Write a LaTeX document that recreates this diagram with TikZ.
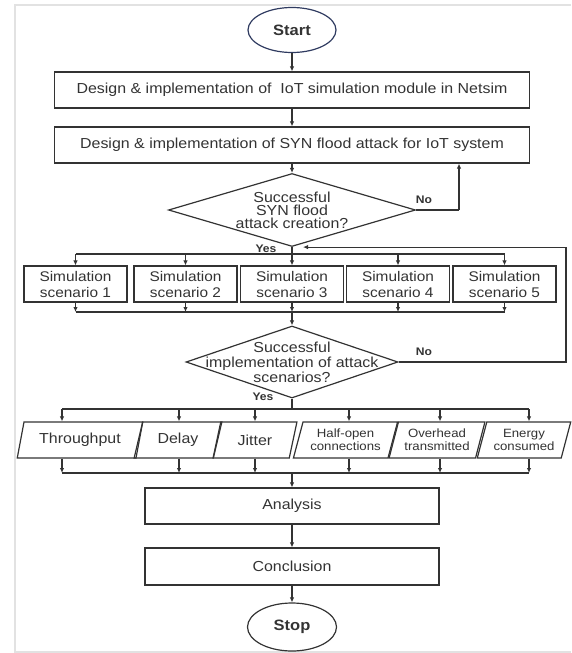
\documentclass[tikz,border=0pt]{standalone}
\usepackage{fontspec}
\setmainfont{Liberation Sans}[FakeStretch=1.1]
\usetikzlibrary{shapes.geometric,arrows.meta}

\definecolor{ink}{HTML}{333333}
\definecolor{navyink}{HTML}{2F3B60}
\definecolor{framegray}{HTML}{E2E2E2}

\tikzset{
  flow/.style={draw=ink,line width=1.2pt,text=ink,inner sep=0pt,align=center},
  box/.style={flow,rectangle,minimum height=36pt,font=\fontsize{14.5}{16}\selectfont},
  term/.style={flow,ellipse,minimum width=88pt,minimum height=45pt,font=\fontsize{15}{15}\selectfont\bfseries},
  decision/.style={flow,diamond},
  dtext/.style={text=ink,align=center,font=\fontsize{14.5}{13}\selectfont},
  data/.style={flow,trapezium,trapezium left angle=70,trapezium right angle=110,
    trapezium stretches=true,minimum height=36pt,font=\fontsize{14.5}{16}\selectfont},
  smalltext/.style={font=\fontsize{12}{13}\selectfont},
  yesno/.style={text=ink,font=\fontsize{11}{11}\selectfont\bfseries},
  link/.style={draw=ink,line width=1.2pt},
  arr/.style={link,-{Latex[length=5pt,width=4.5pt]}}
}

\begin{document}
\begin{tikzpicture}[x=1pt,y=-1pt]
  \useasboundingbox (0,0) rectangle (571,653);
  \draw[framegray,line width=2.5pt] (15,653) -- (15,5) -- (571,5);
  \draw[framegray,line width=2pt] (15,651.5) -- (571,651.5);

  \node[term,draw=navyink] (start) at (292,30) {Start};
  \node[box,minimum width=475pt] (design1) at (292,90) {Design \& implementation of\ \ IoT simulation module in Netsim};
  \node[box,minimum width=475pt] (design2) at (292,145) {Design \& implementation of SYN flood attack for IoT system};

  \node[decision,minimum width=247pt,minimum height=73pt] (d1) at (292,210) {};
  \node[dtext] (d1t) at (d1) {Successful\\SYN flood\\attack creation?};

  \foreach \x [count=\i] in {75.5,185.5,292,398,504.5}
    \node[box,minimum width=103pt,font=\fontsize{14}{16}\selectfont] (s\i) at (\x,284) {Simulation\\scenario \i};

  \node[decision,minimum width=212pt,minimum height=72pt] (d2) at (292,362) {};
  \node[dtext,font=\fontsize{14.5}{15}\selectfont] (d2t) at (d2) {Successful\\implementation of attack\\scenarios?};

  \node[data,minimum width=126pt] (tp) at (80,440) {Throughput};
  \node[data,minimum width=88pt] (dl) at (178,440) {Delay};
  \node[data,minimum width=84pt] (jt) at (255,440) {Jitter};
  \node[data,smalltext,minimum width=105pt] (ho) at (345.5,440) {Half-open\\connections};
  \node[data,smalltext,minimum width=96pt] (oh) at (437,440) {Overhead\\transmitted};
  \node[data,smalltext,minimum width=94pt] (ec) at (524,440) {Energy\\consumed};

  \node[box,minimum width=294pt] (analysis) at (292,506) {Analysis};
  \node[box,minimum width=294pt,minimum height=37pt] (conclusion) at (292,566.5) {Conclusion};
  \node[term,minimum width=89pt,minimum height=48pt] (stop) at (292,627) {Stop};

  \draw[arr] (start) -- (design1);
  \draw[arr] (design1) -- (design2);
  \draw[arr] (design2) -- (d1);

  % no: back to the attack design
  \coordinate (n1) at (459,210);
  \draw[link] (d1.east) -- (n1);
  \draw[arr] (n1) -- (n1 |- design2.south);
  \node[yesno] (no1) at (424,200) {No};
  \node[yesno] (yes1) at (266,249) {Yes};

  % scenarios
  \coordinate (b1) at (292,254);
  \coordinate (b2) at (292,312);
  \draw[link] (d1.south) -- (b1);
  \draw[link] (s1.north |- b1) -- (s5.north |- b1);
  \draw[link] (s1.south |- b2) -- (s5.south |- b2);
  \foreach \i in {1,...,5} {
    \draw[arr] (s\i.north |- b1) -- (s\i.north);
    \draw[arr] (s\i.south) -- (s\i.south |- b2);
  }
  \draw[arr] (b2) -- (d2);

  % no: run the scenarios again
  \coordinate (r1) at (566,362);
  \draw[arr] (d2.east) -- (r1) |- ([xshift=11pt]d1.south);
  \node[yesno] (no2) at (424,352) {No};
  \node[yesno] (yes2) at (263,397) {Yes};

  % metrics
  \coordinate (b3) at (292,409);
  \coordinate (b4) at (292,473);
  \draw[link] (d2.south) -- (b3);
  \foreach \n/\s in {tp/-18,dl/1,jt/0,ho/3.5,oh/3,ec/5}
    \coordinate (\n-x) at ([xshift=\s pt]\n.north);
  \draw[link] (tp-x |- b3) -- (ec-x |- b3);
  \draw[link] (tp-x |- b4) -- (ec-x |- b4);
  \foreach \n in {tp,dl,jt,ho,oh,ec} {
    \draw[arr] (\n-x |- b3) -- (\n-x);
    \draw[arr] (\n-x |- \n.south) -- (\n-x |- b4);
  }
  \draw[arr] (b4) -- (analysis);
  \draw[arr] (analysis) -- (conclusion);
  \draw[arr] (conclusion) -- (stop);
\end{tikzpicture}
\end{document}
